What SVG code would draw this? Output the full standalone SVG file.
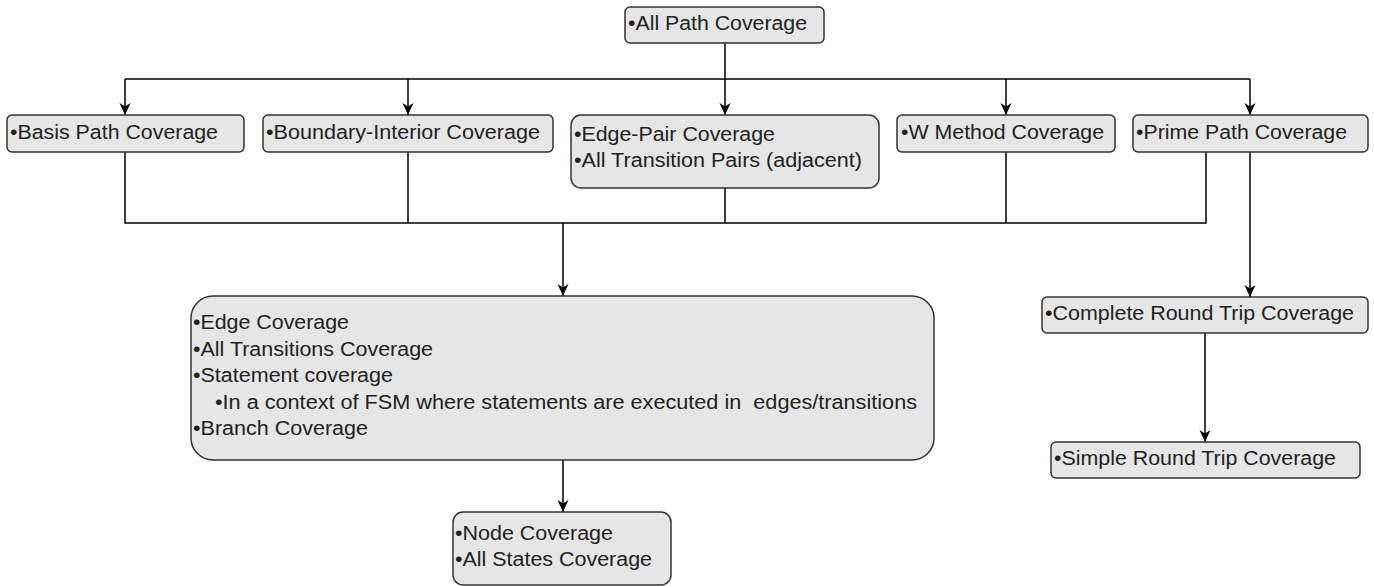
<svg xmlns="http://www.w3.org/2000/svg" width="1374" height="586" viewBox="0 0 1374 586">
<defs>
<marker id="arr" viewBox="0 0 12 12" refX="12" refY="6" markerWidth="12" markerHeight="12" markerUnits="userSpaceOnUse" orient="auto">
<path d="M0,0.5 L12,6 L0,11.5 L3.5,6 Z" fill="#000"/>
</marker>
<style>
.box{fill:#e6e6e6;stroke:#333;stroke-width:1.5}
.t{font-family:"Liberation Sans",Arial,sans-serif;font-size:20px;fill:#222}
.c{fill:none;stroke:#000;stroke-width:1.5}
</style>
</defs>
<rect width="1374" height="586" fill="#fff"/>
<g id="connectors">
<path class="c" d="M725,43 V79 M125,79 H1250"/>
<path class="c" d="M125,79 V115" marker-end="url(#arr)"/>
<path class="c" d="M408,79 V115" marker-end="url(#arr)"/>
<path class="c" d="M725,79 V115" marker-end="url(#arr)"/>
<path class="c" d="M1006,79 V115" marker-end="url(#arr)"/>
<path class="c" d="M1250,79 V115" marker-end="url(#arr)"/>
<path class="c" d="M125,152 V223 H1206 V152 M408,152 V223 M725,188 V223 M1006,152 V223"/>
<path class="c" d="M563,223 V296" marker-end="url(#arr)"/>
<path class="c" d="M1250,152 V297" marker-end="url(#arr)"/>
<path class="c" d="M1205,333 V442" marker-end="url(#arr)"/>
<path class="c" d="M563,460 V512" marker-end="url(#arr)"/>
</g>
<g id="all-path"><rect class="box" x="625" y="7" width="199" height="36" rx="5"/><text class="t" x="628" y="30" textLength="179" lengthAdjust="spacingAndGlyphs">•All Path Coverage</text></g>
<g id="basis-path"><rect class="box" x="7" y="115" width="237" height="37" rx="5"/><text class="t" x="10" y="139" textLength="208" lengthAdjust="spacingAndGlyphs">•Basis Path Coverage</text></g>
<g id="boundary-interior"><rect class="box" x="263" y="115" width="290" height="37" rx="5"/><text class="t" x="266" y="139" textLength="274" lengthAdjust="spacingAndGlyphs">•Boundary-Interior Coverage</text></g>
<g id="edge-pair"><rect class="box" x="571" y="115" width="308" height="73" rx="10"/><text class="t" x="574" y="141" textLength="201" lengthAdjust="spacingAndGlyphs">•Edge-Pair Coverage</text><text class="t" x="574" y="167" textLength="288" lengthAdjust="spacingAndGlyphs">•All Transition Pairs (adjacent)</text></g>
<g id="w-method"><rect class="box" x="897" y="115" width="218" height="37" rx="5"/><text class="t" x="901" y="139" textLength="203" lengthAdjust="spacingAndGlyphs">•W Method Coverage</text></g>
<g id="prime-path"><rect class="box" x="1133" y="115" width="235" height="37" rx="5"/><text class="t" x="1136" y="139" textLength="211" lengthAdjust="spacingAndGlyphs">•Prime Path Coverage</text></g>
<g id="edge-coverage"><rect class="box" x="191" y="296" width="743" height="164" rx="22"/>
<text class="t" x="193" y="329" textLength="156" lengthAdjust="spacingAndGlyphs">•Edge Coverage</text>
<text class="t" x="193" y="356" textLength="240" lengthAdjust="spacingAndGlyphs">•All Transitions Coverage</text>
<text class="t" x="193" y="382" textLength="200" lengthAdjust="spacingAndGlyphs">•Statement coverage</text>
<text class="t" x="215" y="409" textLength="702" lengthAdjust="spacingAndGlyphs" xml:space="preserve">•In a context of FSM where statements are executed in  edges/transitions</text>
<text class="t" x="193" y="435" textLength="175" lengthAdjust="spacingAndGlyphs">•Branch Coverage</text></g>
<g id="complete-round-trip"><rect class="box" x="1042" y="297" width="326" height="36" rx="5"/><text class="t" x="1045" y="320" textLength="309" lengthAdjust="spacingAndGlyphs">•Complete Round Trip Coverage</text></g>
<g id="simple-round-trip"><rect class="box" x="1051" y="442" width="309" height="36" rx="5"/><text class="t" x="1054" y="465" textLength="282" lengthAdjust="spacingAndGlyphs">•Simple Round Trip Coverage</text></g>
<g id="node-coverage"><rect class="box" x="453" y="512" width="218" height="73" rx="10"/><text class="t" x="455" y="540" textLength="158" lengthAdjust="spacingAndGlyphs">•Node Coverage</text><text class="t" x="455" y="566" textLength="197" lengthAdjust="spacingAndGlyphs">•All States Coverage</text></g>
</svg>
